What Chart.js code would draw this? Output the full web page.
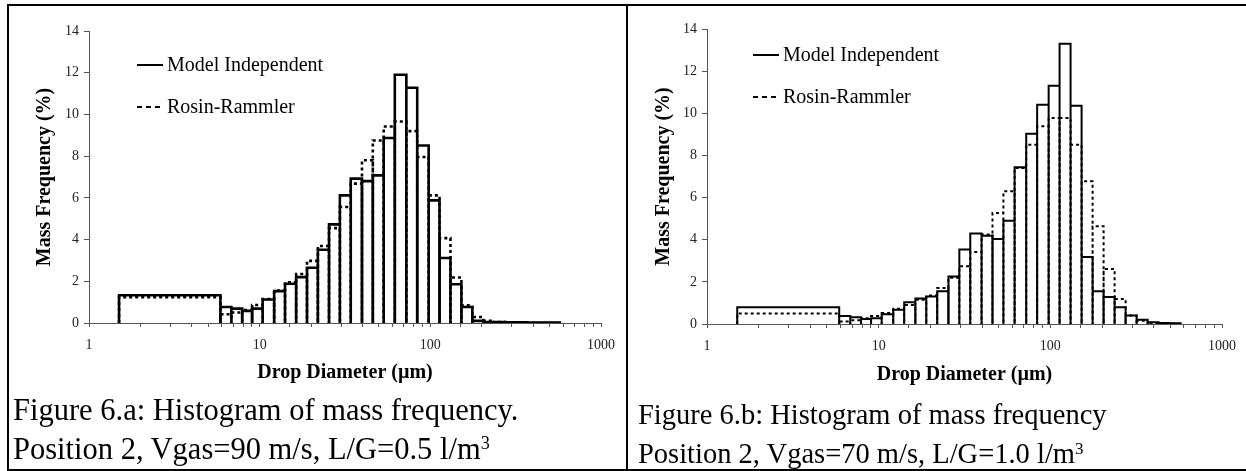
<!DOCTYPE html>
<html>
<head>
<meta charset="utf-8">
<script src="https://cdn.jsdelivr.net/npm/chart.js@4/dist/chart.umd.min.js"></script>
<style>
  body { margin: 0; background: #fff; width: 1246px; height: 471px; position: relative; overflow: hidden;
         font-family: "Liberation Serif", "Times New Roman", serif; }
  canvas { position: absolute; top: 0; }
  #chartA { left: 0; }
  #chartB { left: 628px; }
  .line { position: absolute; background: #000; }
  .cap { position: absolute; color: #000; white-space: nowrap; line-height: 39px; }
  .cap sup { font-size: 60%; vertical-align: 0; position: relative; top: -0.55em; }
</style>
</head>
<body>
<canvas id="chartA" width="625" height="390"></canvas>
<canvas id="chartB" width="618" height="390"></canvas>

<div class="line" style="left:7px;top:4px;width:1239px;height:2px"></div>
<div class="line" style="left:7px;top:4px;width:2px;height:467px"></div>
<div class="line" style="left:626px;top:4px;width:2px;height:467px"></div>
<div class="line" style="left:7px;top:469px;width:1239px;height:2px"></div>

<div class="cap" style="left:13px;top:391px;font-size:30.5px">Figure 6.a: Histogram of mass frequency.<br>Position 2, Vgas=90 m/s, L/G=0.5 l/m<sup>3</sup></div>
<div class="cap" style="left:638px;top:395px;font-size:28.5px">Figure 6.b: Histogram of mass frequency<br>Position 2, Vgas=70 m/s, L/G=1.0 l/m<sup>3</sup></div>

<script>
// drop size classes (µm), first class is the lumped small-drop bin
const binEdges = [1.5, 5.89, 6.83, 7.90, 9.03, 10.41, 12.16, 14.08, 16.36, 18.94, 21.93,
    25.49, 29.51, 34.17, 39.76, 46.03, 53.29, 61.93, 72.36, 83.78, 97.76, 113.2,
    131.2, 152.1, 176.3, 204.3, 236.8, 274.5, 318.1, 368.7, 427.3, 495.3, 574];

// Figure 6.a  (Vgas = 90 m/s, L/G = 0.5)
const modelIndepA = [1.33, 0.77, 0.69, 0.58, 0.69, 1.13, 1.53, 1.88, 2.2, 2.65, 3.51,
    4.73, 6.12, 6.92, 6.8, 7.08, 8.87, 11.9, 11.28, 8.51, 5.88, 3.12,
    1.86, 0.77, 0.1, 0.05, 0.04, 0.03, 0.03, 0.02, 0.02, 0.02];
const rosinRammlerA = [1.24, 0.42, 0.5, 0.62, 0.86, 1.15, 1.55, 1.95, 2.35, 2.98, 3.69,
    4.55, 5.56, 6.68, 7.8, 8.75, 9.42, 9.66, 9.2, 7.96, 6.12, 4.07,
    2.18, 0.85, 0.29, 0.1, 0.04, 0.02, 0.01, 0.01, 0, 0];

// Figure 6.b  (Vgas = 70 m/s, L/G = 1.0)
const modelIndepB = [0.8, 0.38, 0.32, 0.24, 0.27, 0.46, 0.68, 1.03, 1.21, 1.3, 1.55,
    2.26, 3.53, 4.3, 4.19, 4.03, 4.9, 7.44, 9.03, 10.41, 11.31, 13.3,
    10.36, 3.18, 1.55, 1.28, 0.79, 0.4, 0.2, 0.08, 0.05, 0.03];
const rosinRammlerB = [0.5, 0.12, 0.18, 0.27, 0.38, 0.52, 0.72, 0.9, 1.15, 1.35, 1.71,
    2.2, 2.74, 3.42, 4.25, 5.27, 6.3, 7.4, 8.51, 9.38, 9.78, 9.78,
    8.51, 6.77, 4.64, 2.61, 1.19, 0.4, 0.15, 0.05, 0.02, 0.01];

const xTickLabels = [1, 10, 100, 1000];
const seriesNames = ['Model Independent', 'Rosin-Rammler'];

// trace each class as an open rectangle
function histOutline(edges, values) {
    const pts = [];
    values.forEach((v, i) => {
        pts.push({x: edges[i], y: 0}, {x: edges[i], y: v},
                 {x: edges[i + 1], y: v}, {x: edges[i + 1], y: 0});
    });
    return pts;
}

const serif = '"Liberation Serif", "Times New Roman", serif';

const inlineLegend = {
    id: 'inlineLegend',
    afterDraw(chart, args, opts) {
        const {ctx, chartArea} = chart;
        ctx.save();
        ctx.font = '20px ' + serif;
        ctx.fillStyle = '#000';
        ctx.strokeStyle = '#000';
        ctx.textBaseline = 'middle';
        chart.data.datasets.forEach((ds, i) => {
            const x = chartArea.left + opts.left;
            const y = chartArea.top + opts.top + i * 42;
            ctx.beginPath();
            ctx.lineWidth = 2;
            ctx.setLineDash(i === 0 ? [] : [5, 4]);
            ctx.moveTo(x, y);
            ctx.lineTo(x + 26, y);
            ctx.stroke();
            ctx.setLineDash([]);
            ctx.fillText(ds.label, x + 30, y + 1);
        });
        ctx.restore();
    }
};

function makeChart(id, mi, rr, cfg) {
    new Chart(document.getElementById(id), {
        type: 'scatter',
        data: {
            datasets: [
                {
                    label: seriesNames[0],
                    data: histOutline(binEdges, mi),
                    showLine: true,
                    borderColor: '#000',
                    borderWidth: cfg.lw,
                    pointRadius: 0,
                    fill: false
                },
                {
                    label: seriesNames[1],
                    data: histOutline(binEdges, rr),
                    showLine: true,
                    borderColor: '#000',
                    borderWidth: cfg.lw,
                    borderDash: [3, 3],
                    pointRadius: 0,
                    fill: false
                }
            ]
        },
        options: {
            responsive: false,
            animation: false,
            layout: {padding: {left: 0, top: cfg.top, right: cfg.right, bottom: 0}},
            plugins: {
                legend: {display: false},
                tooltip: {enabled: false},
                inlineLegend: cfg.legend
            },
            scales: {
                x: {
                    type: 'logarithmic',
                    min: 1,
                    max: 1000,
                    afterFit: s => { s.height = cfg.xHeight; },
                    border: {color: '#555', width: 1},
                    grid: {drawOnChartArea: false, drawTicks: true, tickLength: 4, color: '#555'},
                    ticks: {
                        autoSkip: false,
                        maxRotation: 0,
                        padding: 10,
                        color: '#222',
                        font: {family: serif, size: 14},
                        callback: v => xTickLabels.includes(v) ? String(v) : ''
                    },
                    title: {
                        display: true,
                        text: 'Drop Diameter (µm)',
                        color: '#000',
                        font: {family: serif, size: 20, weight: 'bold'},
                        padding: {top: 0, bottom: cfg.xTitlePad}
                    }
                },
                y: {
                    min: 0,
                    max: 14,
                    afterFit: s => { s.width = cfg.yWidth; },
                    border: {color: '#555', width: 1},
                    grid: {drawOnChartArea: false, drawTicks: true, tickLength: 5, color: '#555'},
                    ticks: {
                        stepSize: 2,
                        padding: 5,
                        color: '#222',
                        font: {family: serif, size: 14}
                    },
                    title: {
                        display: true,
                        text: 'Mass Frequency (%)',
                        color: '#000',
                        font: {family: serif, size: 20, weight: 'bold'},
                        padding: {top: cfg.yTitlePad, bottom: 0}
                    }
                }
            }
        },
        plugins: [inlineLegend]
    });
}

makeChart('chartA', modelIndepA, rosinRammlerA, {
    lw: 2.6, top: 31, right: 17, xHeight: 67, yWidth: 89,
    xTitlePad: 5, yTitlePad: 33, legend: {left: 48, top: 34}
});
makeChart('chartB', modelIndepB, rosinRammlerB, {
    lw: 2, top: 29, right: 22, xHeight: 66, yWidth: 79,
    xTitlePad: 3, yTitlePad: 24, legend: {left: 46, top: 26}
});
</script>
</body>
</html>
